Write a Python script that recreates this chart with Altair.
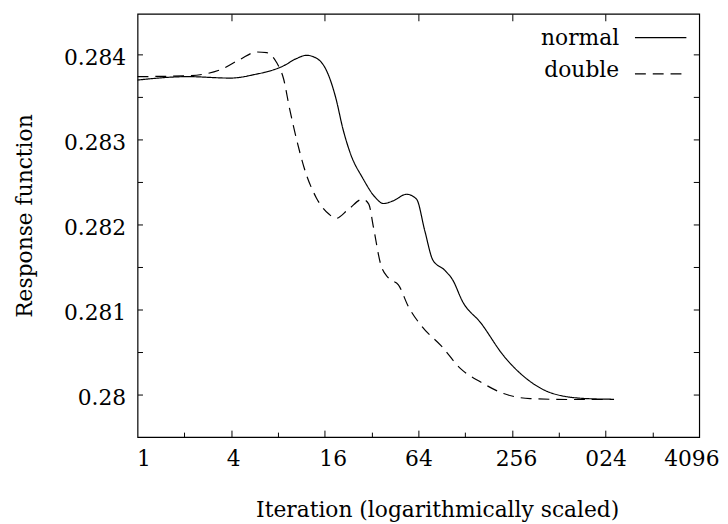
import altair as alt
import pandas as pd

series_names = ["normal", "double"]

normal_iter = [1, 2.11, 3.95, 5.6, 8.7, 10.5, 12.2, 14.5, 16.8, 18.9, 20.9, 23.5, 28.0,
               33.9, 38.1, 44.0, 53.8, 62.3, 70.3, 79.4, 94.3, 106.4, 123, 161, 226,
               318, 470, 766, 1160]
normal_resp = [0.283701, 0.283741, 0.283724, 0.283764, 0.283869, 0.283953, 0.283992,
               0.283945, 0.283771, 0.283480, 0.283131, 0.282826, 0.282550, 0.282317,
               0.282248, 0.282279, 0.282357, 0.282299, 0.281930, 0.281581, 0.281465,
               0.281349, 0.281096, 0.280845, 0.280457, 0.280186, 0.280012, 0.279953,
               0.279945]

double_iter = [1, 2.11, 3.41, 4.57, 5.86, 6.78, 7.84, 8.7, 9.5, 10.5, 11.8, 14.1, 17.0,
               18.9, 22.8, 28.0, 30.7, 32.9, 36.5, 41.2, 47.6, 55.1, 67.1, 89.8, 120,
               161, 226, 335, 601, 1160]
double_resp = [0.283741, 0.283752, 0.283822, 0.283945, 0.284031, 0.284023, 0.283907,
               0.283713, 0.283364, 0.283015, 0.282666, 0.282317, 0.282124, 0.282073,
               0.282183, 0.282299, 0.282241, 0.281969, 0.281543, 0.281369, 0.281291,
               0.281038, 0.280806, 0.280573, 0.280302, 0.280148, 0.280012, 0.279953,
               0.279942, 0.279942]

x_label_values = [1, 4, 16, 64, 256, 1024, 4096]
x_major_ticks = [4, 16, 64, 256, 1024]
x_minor_ticks = [2, 8, 32, 128, 512, 2048]
y_label_values = [0.28, 0.281, 0.282, 0.283, 0.284]
y_all_ticks = [0.28, 0.2805, 0.281, 0.2815, 0.282, 0.2825, 0.283, 0.2835, 0.284]

df = pd.concat([
    pd.DataFrame({"iter": normal_iter, "resp": normal_resp, "series": series_names[0]}),
    pd.DataFrame({"iter": double_iter, "resp": double_resp, "series": series_names[1]}),
])

FONT = "DejaVu Serif"
FS = 22
W, H = 568, 428

xscale = alt.Scale(type="log", base=2, domain=[1, 4096], nice=False)
yscale = alt.Scale(domain=[0.2795, 0.28448], zero=False, nice=False)

x_label_axis = alt.Axis(
    orient="bottom", values=x_label_values,
    labelExpr="datum.value == 1024 ? '024' : format(datum.value, 'd')",
    ticks=False, domain=False, grid=False, labelPadding=12,
    labelFlush=False, labelOverlap=False,
    labelOffset={"condition": [
        {"test": "datum.value == 1", "value": 6},
        {"test": "datum.value == 4", "value": 2},
        {"test": "datum.value == 16", "value": 8},
        {"test": "datum.value == 256", "value": 4},
        {"test": "datum.value == 4096", "value": -8},
    ], "value": 0},
    title="Iteration (logarithmically scaled)",
    titleX=303, titleY=80, titleBaseline="alphabetic", titleAlign="center",
)
y_label_axis = alt.Axis(
    orient="left", values=y_label_values, format=".3~f",
    ticks=False, domain=False, grid=False, labelPadding=12, labelOffset=3,
    labelOverlap=False,
    title="Response function", titleX=-107, titleY=204, titleAngle=270,
    titleBaseline="alphabetic", titleAlign="center",
)


def tick_axis(orient, values, size):
    return alt.Axis(orient=orient, values=values, tickSize=size, offset=-size,
                    labels=False, domain=False, grid=False, title=None,
                    tickColor="black", tickWidth=1)


lines = alt.Chart(df).mark_line(color="black", strokeWidth=1.2, interpolate="monotone").encode(
    x=alt.X("iter:Q", scale=xscale, axis=x_label_axis),
    y=alt.Y("resp:Q", scale=yscale, axis=y_label_axis),
    strokeDash=alt.StrokeDash("series:N", scale=alt.Scale(domain=series_names,
                                                          range=[[1, 0], [11, 7]]),
                              legend=None),
)


def ghost(xaxis, yaxis):
    enc = {"x": alt.X("iter:Q", scale=xscale, axis=xaxis),
           "y": alt.Y("resp:Q", scale=yscale, axis=yaxis),
           "detail": "series:N"}
    return alt.Chart(df).mark_line(opacity=0).encode(**enc)


g1 = ghost(tick_axis("bottom", x_major_ticks, 7), tick_axis("left", y_all_ticks, 5))
g2 = ghost(tick_axis("bottom", x_minor_ticks, 5), tick_axis("right", y_all_ticks, 6))
g3 = ghost(tick_axis("top", x_major_ticks, 7), None)

leg_layers = []
leg_pos = [(31.7, 24, [1, 0]), (64, 60.7, [11, 7])]
for name, (ty, ly, dash) in zip(series_names, leg_pos):
    ld = pd.DataFrame({"series": [name]})
    leg_layers.append(
        alt.Chart(ld).mark_text(align="right", baseline="alphabetic", font=FONT,
                                fontSize=FS, color="black").encode(
            text="series:N", x=alt.value(487), y=alt.value(ty))
    )
    leg_layers.append(
        alt.Chart(ld).mark_rule(color="black", strokeWidth=1.2, strokeDash=dash).encode(
            x=alt.value(503), x2=alt.value(555), y=alt.value(ly))
    )

chart = alt.layer(lines, g1, g2, g3, *leg_layers).resolve_axis(
    x="independent", y="independent"
).properties(
    width=W, height=H,
    autosize=alt.AutoSizeParams(type="none"),
    padding={"left": 131, "top": 3, "right": 21, "bottom": 85},
).configure_view(
    stroke="black", strokeWidth=1.2
).configure_axis(
    labelFont=FONT, titleFont=FONT, labelFontSize=FS, titleFontSize=FS,
    titleFontWeight="normal", labelColor="black", titleColor="black",
)

chart.save("out.html", embed_options={"renderer": "svg", "actions": False})
